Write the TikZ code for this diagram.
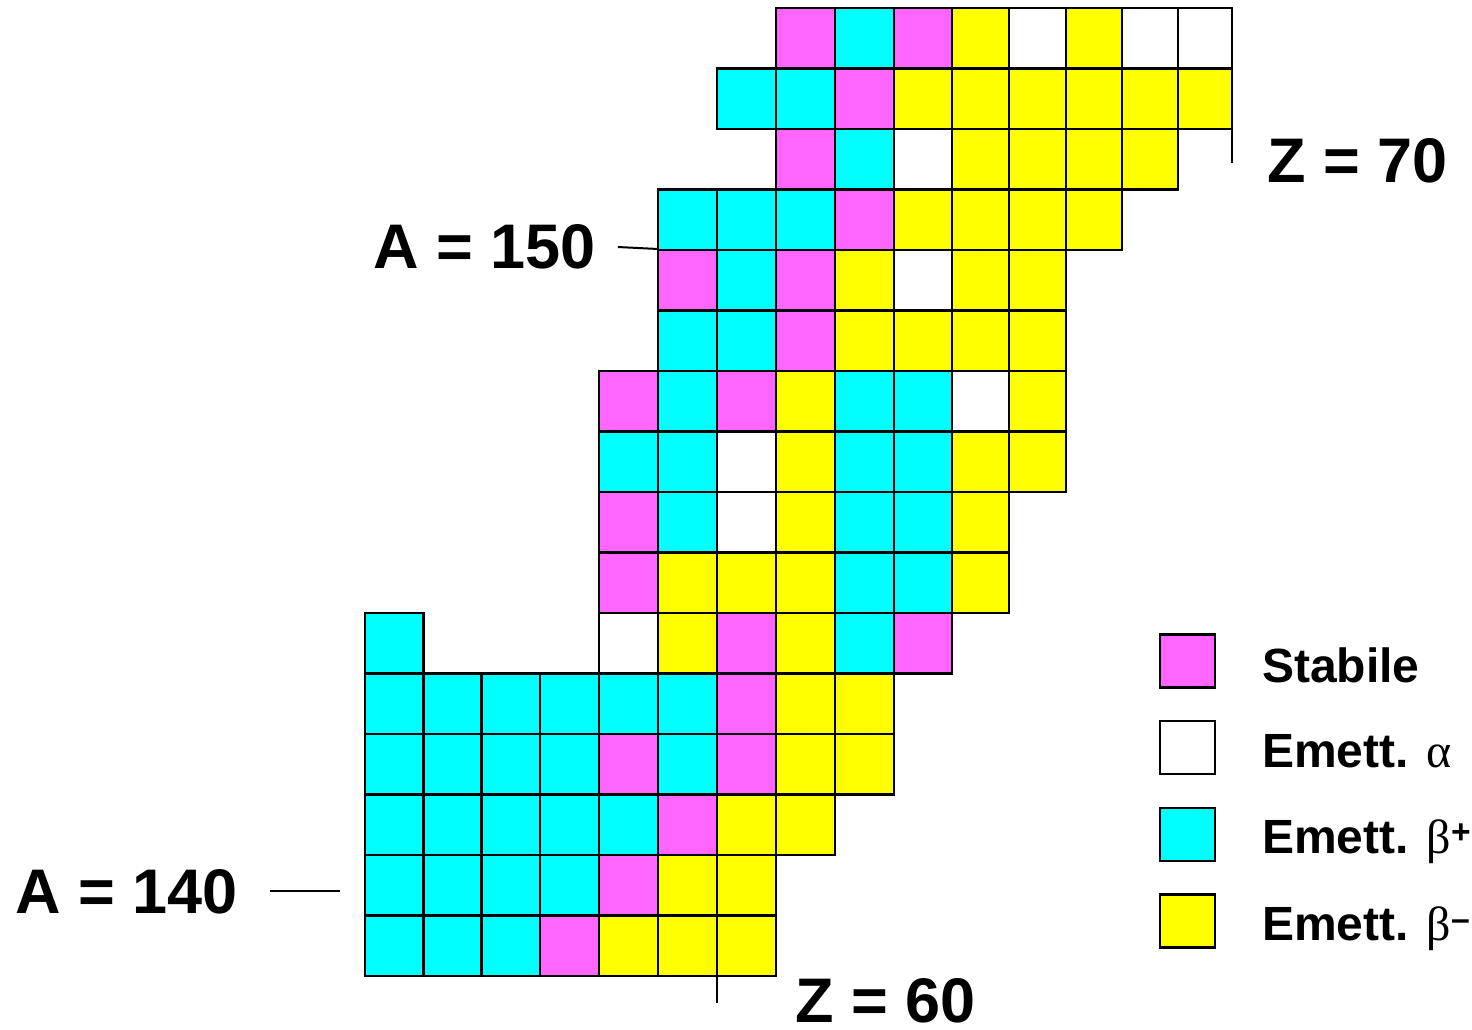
\documentclass[tikz,border=0pt]{standalone}
\usepackage{fontspec}
\setmainfont{Liberation Sans}
\newfontfamily\grk{Liberation Serif}
\usetikzlibrary{arrows.meta}

\definecolor{colS}{HTML}{FF66FF}
\definecolor{colA}{HTML}{FFFFFF}
\definecolor{colP}{HTML}{00FFFF}
\definecolor{colN}{HTML}{FFFF00}

\tikzset{
  cell/.style={draw=black, line width=2.6pt, fill=col#1},
  legbox/.style={draw=black, line width=2.6pt, minimum width=55pt, minimum height=53pt, inner sep=0pt},
  leglabel/.style={anchor=base west, inner sep=0pt, font=\bfseries\fontsize{48}{56}\selectfont},
  biglabel/.style={anchor=base west, inner sep=0pt, text depth=0pt, font=\bfseries\fontsize{63}{72}\selectfont},
  tick/.style={line width=2pt}
}

\def\colx{{365,423.5,481.5,540,599,658,717,776,835,894,952,1009,1066,1122,1178,1232}}

\begin{document}
\begin{tikzpicture}[x=1pt,y=-1pt]
  \useasboundingbox (0,0) rectangle (1472,1030);
  % row / first column / cells
  \foreach \r/\s/\cells in {
      0/7/{S,P,S,N,A,N,A,A},
      1/6/{P,P,S,N,N,N,N,N,N},
      2/7/{S,P,A,N,N,N,N},
      3/5/{P,P,P,S,N,N,N,N},
      4/5/{S,P,S,N,A,N,N},
      5/5/{P,P,S,N,N,N,N},
      6/4/{S,P,S,N,P,P,A,N},
      7/4/{P,P,A,N,P,P,N,N},
      8/4/{S,P,A,N,P,P,N},
      9/4/{S,N,N,N,P,P,N},
      10/0/{P},
      10/4/{A,N,S,N,P,S},
      11/0/{P,P,P,P,P,P,S,N,N},
      12/0/{P,P,P,P,S,P,S,N,N},
      13/0/{P,P,P,P,P,S,N,N},
      14/0/{P,P,P,P,S,N,N},
      15/0/{P,P,P,S,N,N,N}} {
    \foreach \t [count=\k from \s] in \cells {
      \pgfmathsetmacro\xa{\colx[\k]}
      \pgfmathsetmacro\xb{\colx[\k+1]}
      \pgfmathsetmacro\ya{8+60.5*\r}
      \pgfmathsetmacro\yb{\ya+60.5}
      \draw[cell=\t] (\xa,\ya) rectangle (\xb,\yb);
    }
  }

  % axis labels
  \node[biglabel] (A150) at (373,268) {A = 150};
  \node[biglabel] (A140) at (15,913) {A = 140};
  \node[biglabel] (Z70) at (1267,182) {Z = 70};
  \node[biglabel] (Z60) at (795,1022) {Z = 60};
  \coordinate (t150) at (658,249);
  \coordinate (t140) at (340,891);
  \coordinate (t70a) at (1232,128);
  \coordinate (t70b) at (1232,163);
  \coordinate (t60a) at (717,888);
  \coordinate (t60b) at (717,1003);
  \draw[tick] ([xshift=22pt,yshift=-1pt]A150.east) -- (t150);
  \draw[tick] ([xshift=32pt]A140.east |- t140) -- (t140);
  \draw[tick] (t70a) -- (t70b);
  \draw[tick] (t60a) -- (t60b);

  % legend
  \node[legbox, fill=colS] (lgS) at (1187.5,661) {};
  \node[legbox, fill=colA] (lgA) at (1187.5,747.5) {};
  \node[legbox, fill=colP] (lgP) at (1187.5,834.5) {};
  \node[legbox, fill=colN] (lgN) at (1187.5,921) {};
  \node[leglabel] (txS) at (1262,682) {Stabile};
  \node[leglabel] (txA) at (1262,767) {Emett. {\grk\mdseries α}};
  \node[leglabel] (txP) at (1262,853) {Emett. {\grk\mdseries β}\textsuperscript{+}};
  \node[leglabel] (txN) at (1262,940) {Emett. {\grk\mdseries β}\textsuperscript{–}};
\end{tikzpicture}
\end{document}
